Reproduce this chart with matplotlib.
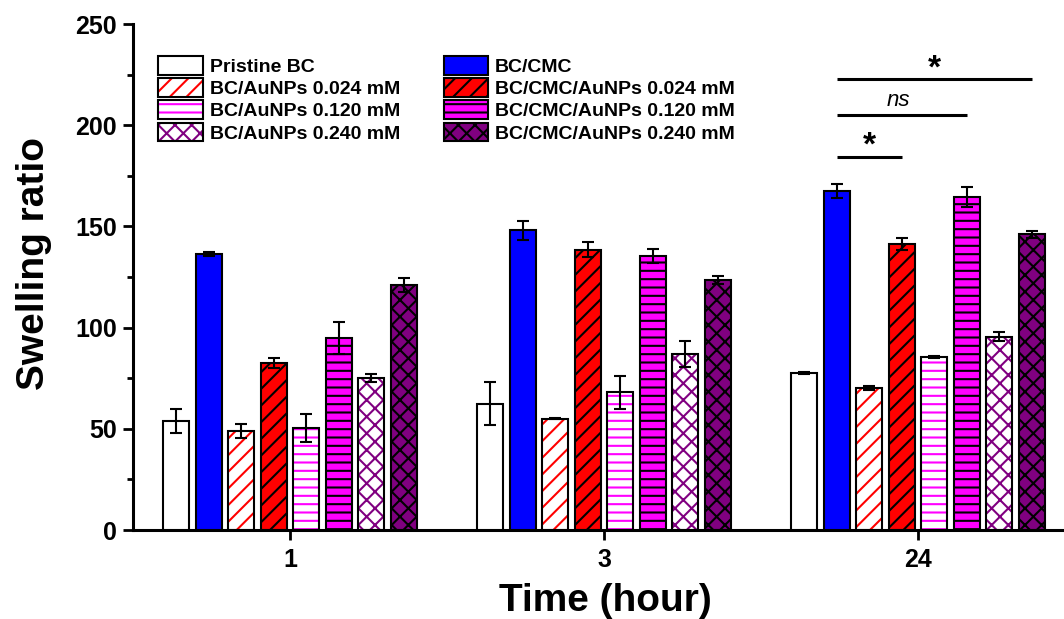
import numpy as np
import matplotlib
matplotlib.use('Agg')
import matplotlib.pyplot as plt
from matplotlib.patches import Patch

plt.rcParams['font.family'] = ['Liberation Sans', 'DejaVu Sans']
plt.rcParams['hatch.linewidth'] = 1.5

# data
time_labels = ['1', '3', '24']
names = ['Pristine BC', 'BC/CMC',
         'BC/AuNPs 0.024 mM', 'BC/CMC/AuNPs 0.024 mM',
         'BC/AuNPs 0.120 mM', 'BC/CMC/AuNPs 0.120 mM',
         'BC/AuNPs 0.240 mM', 'BC/CMC/AuNPs 0.240 mM']
pristine_bc = [54, 62.5, 77.5]
pristine_bc_err = [6, 10.8, 0.5]
bc_cmc = [136.5, 148, 167.5]
bc_cmc_err = [1, 4.5, 3.6]
bc_au024 = [49, 55, 70]
bc_au024_err = [3.5, 0.3, 1]
cmc_au024 = [82.5, 138.5, 141.5]
cmc_au024_err = [2.5, 3.8, 3]
bc_au120 = [50.4, 68, 85.3]
bc_au120_err = [7, 8.2, 0.5]
cmc_au120 = [95, 135.3, 164.5]
cmc_au120_err = [8, 3.3, 4.8]
bc_au240 = [75, 87, 95.5]
bc_au240_err = [2, 6.5, 2.3]
cmc_au240 = [121, 123.5, 146]
cmc_au240_err = [3.5, 2.1, 1.8]

# significance brackets at 24 h (from bar index, to bar index, height, label)
sig_from = [1, 1, 1]
sig_to = [3, 5, 7]
sig_y = [184.5, 205, 222.8]
sig_text = ['*', 'ns', '*']

means = [pristine_bc, bc_cmc, bc_au024, cmc_au024, bc_au120, cmc_au120, bc_au240, cmc_au240]
errs = [pristine_bc_err, bc_cmc_err, bc_au024_err, cmc_au024_err,
        bc_au120_err, cmc_au120_err, bc_au240_err, cmc_au240_err]
# (face, hatch, hatch colour)
styles = [('white', None, None), ('#0000ff', None, None),
          ('white', '//', '#ff0000'), ('#ff0000', '//', 'black'),
          ('white', '--', '#ff00ff'), ('#ff00ff', '--', 'black'),
          ('white', 'xx', '#800080'), ('#800080', 'xx', 'black')]

fig = plt.figure(figsize=(10.64, 6.19), dpi=100)
ax = fig.add_axes([133/1064, 89/619, 931/1064, 506/619])

x = np.arange(len(time_labels))
pitch = 0.1035
width = 0.083
handles = []
for i in range(8):
    pos = x + (i - 3.5) * pitch
    fc, hatch, hc = styles[i]
    if hatch:
        ax.bar(pos, means[i], width, color=fc, edgecolor=hc, hatch=hatch, linewidth=0, zorder=2)
        ax.bar(pos, means[i], width, fill=False, edgecolor='black', linewidth=1.5, zorder=3)
        h = (Patch(facecolor=fc, edgecolor=hc, hatch=hatch, linewidth=0),
             Patch(fill=False, edgecolor='black', linewidth=1.5))
    else:
        ax.bar(pos, means[i], width, color=fc, edgecolor='black', linewidth=1.5, zorder=3)
        h = Patch(facecolor=fc, edgecolor='black', linewidth=1.5)
    ax.errorbar(pos, means[i], yerr=errs[i], fmt='none', ecolor='black',
                elinewidth=1.5, capsize=4, capthick=1.5, zorder=4)
    handles.append(h)

for a, b, yv, t in zip(sig_from, sig_to, sig_y, sig_text):
    x0 = 2 + (a - 3.5) * pitch
    x1 = 2 + (b - 3.5) * pitch
    ax.plot([x0, x1], [yv, yv], color='black', lw=2.2, solid_capstyle='butt', zorder=5)
    if t == 'ns':
        ax.text((x0 + x1) / 2 - 0.012, yv + 2, t, fontsize=16, style='italic',
                ha='center', va='bottom')
    else:
        ax.text((x0 + x1) / 2, yv - 2.5, t, fontsize=24, fontweight='bold',
                ha='center', va='bottom')

ax.set_xlim(-0.5, 2.465)
ax.set_ylim(0, 250)
ax.set_xticks(x)
ax.set_xticklabels(time_labels)
ax.set_yticks(np.arange(0, 251, 50))
ax.set_yticks(np.arange(25, 250, 50), minor=True)
for s in ['top', 'right']:
    ax.spines[s].set_visible(False)
for s in ['left', 'bottom']:
    ax.spines[s].set_linewidth(2.2)
ax.tick_params(axis='both', which='major', direction='out', length=7, width=2,
               labelsize=18, pad=4.5)
ax.tick_params(axis='x', which='major', pad=6)
ax.tick_params(axis='y', which='minor', direction='out', length=4, width=2)
for lab in ax.get_xticklabels() + ax.get_yticklabels():
    lab.set_fontweight('bold')

ax.set_xlabel('Time (hour)', fontsize=28, fontweight='bold', labelpad=8)
ax.set_ylabel('Swelling ratio', fontsize=28, fontweight='bold')
ax.xaxis.set_label_coords(0.507, -0.105)
ax.yaxis.set_label_coords(-0.087, 0.526)

order = [0, 2, 4, 6, 1, 3, 5, 7]
ax.legend([handles[k] for k in order], [names[k] for k in order], ncol=2,
          loc='upper left', bbox_to_anchor=(0.027, 0.937), frameon=False,
          prop={'size': 14, 'weight': 'bold'}, handlelength=2.3, handleheight=1.1,
          labelspacing=0.12, handletextpad=0.35, columnspacing=2.25,
          borderpad=0, borderaxespad=0)

fig.savefig('out.png', dpi=100)
